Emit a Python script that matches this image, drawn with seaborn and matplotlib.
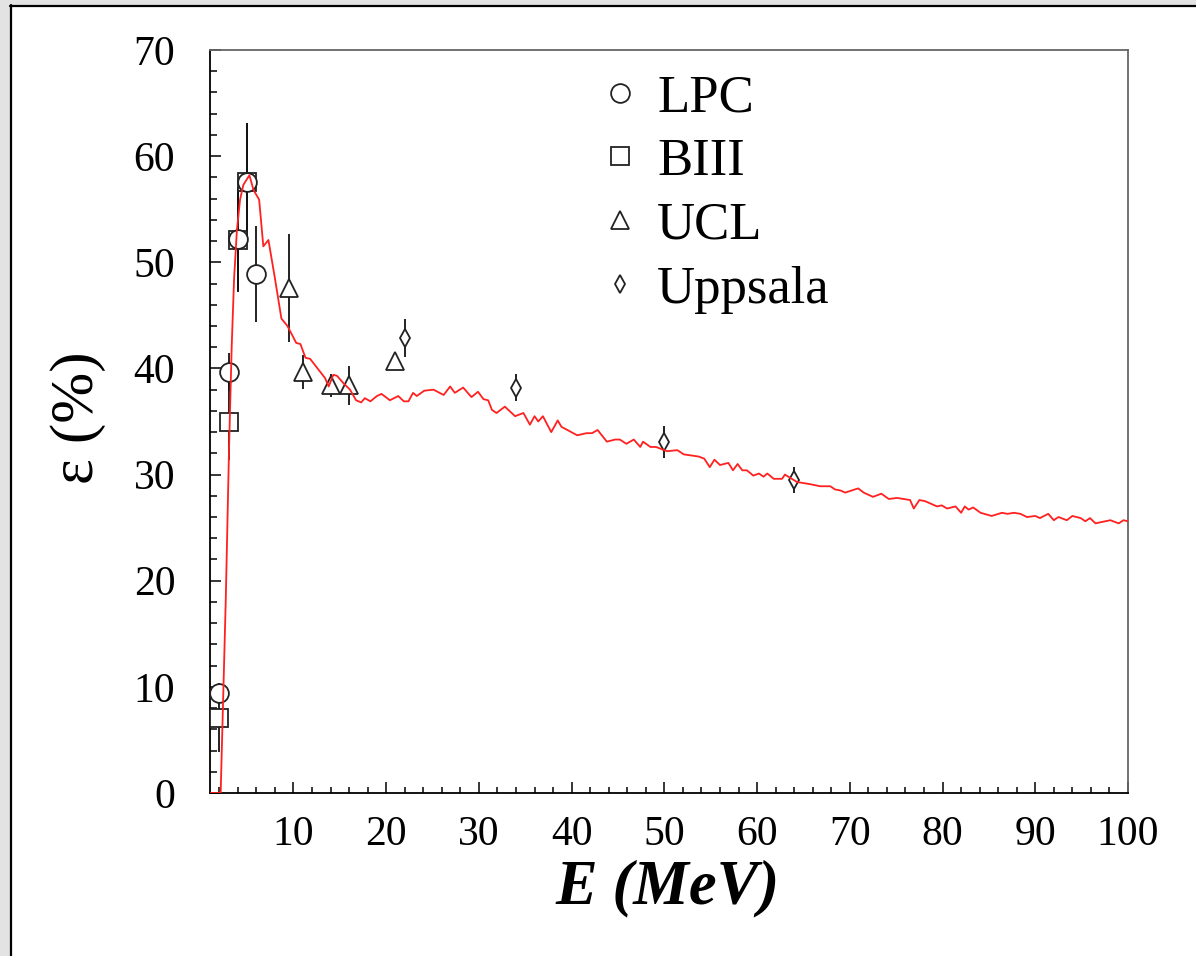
import numpy as np
import pandas as pd
import matplotlib
matplotlib.use("Agg")
import matplotlib.pyplot as plt
import seaborn as sns
from matplotlib.ticker import MultipleLocator
from matplotlib.patches import Rectangle
from matplotlib.lines import Line2D

# ---------------- data ----------------
sim_E = [1.0, 2.15, 2.7, 3.05, 3.34, 3.6, 3.9, 4.24, 4.6, 5.25, 5.7, 6.3, 6.75, 7.3, 8.0, 8.7,
         9.35, 10.3, 10.75, 11.3, 11.8, 12.6, 13.4, 13.8, 14.3, 14.7, 15.4, 16.1, 16.75, 17.3,
         17.7, 18.3, 19.0, 19.5, 20.4, 21.3, 21.9, 22.4, 22.9, 23.3, 24.1, 25.1, 26.2, 26.9,
         27.4, 28.3, 29.2, 29.9, 30.5, 31.0, 31.4, 31.9, 32.8, 33.9, 34.8, 35.5, 36.0, 36.4,
         36.9, 37.8, 38.5, 38.9, 40.6, 41.6, 42.2, 42.8, 43.8, 44.7, 45.2, 45.9, 46.7, 47.4,
         47.7, 48.5, 49.1, 50.3, 51.4, 52.1, 53.7, 54.3, 54.9, 55.4, 56.0, 56.9, 57.4, 57.9,
         58.4, 58.9, 59.6, 60.2, 60.7, 61.1, 61.8, 62.7, 63.0, 64.3, 65.7, 66.8, 67.9, 68.4,
         69.0, 69.5, 70.9, 71.5, 72.5, 73.4, 74.2, 75.1, 76.5, 76.9, 77.5, 78.1, 79.4, 79.9,
         80.5, 81.4, 82.0, 82.4, 82.8, 83.3, 84.1, 85.3, 86.4, 87.0, 87.7, 88.4, 89.1, 90.0,
         90.5, 91.4, 92.0, 92.5, 93.4, 94.0, 94.9, 95.4, 95.9, 96.5, 97.0, 98.1, 99.0, 99.5, 100.0]
sim_eff = [0.0, 0.0, 18.2, 32.3, 42.1, 48.5, 53.0, 55.9, 57.3, 58.2, 56.8, 55.9, 51.5, 52.1, 48.5, 44.7,
           44.0, 42.4, 42.3, 41.0, 40.9, 40.0, 39.1, 38.3, 39.4, 39.3, 38.6, 38.0, 37.0, 36.8,
           37.2, 36.9, 37.4, 37.6, 37.0, 37.4, 36.9, 36.9, 37.7, 37.4, 37.9, 38.0, 37.5, 38.3,
           37.7, 38.2, 37.3, 37.8, 37.1, 37.0, 36.1, 35.8, 36.4, 35.5, 35.8, 34.7, 35.5, 35.0,
           35.5, 34.0, 35.1, 34.5, 33.7, 33.9, 33.9, 34.2, 33.1, 33.3, 33.3, 32.9, 33.3, 32.6,
           33.1, 32.6, 32.6, 32.2, 32.3, 31.9, 31.7, 31.5, 30.7, 31.4, 30.9, 31.1, 30.4, 31.0,
           30.4, 30.4, 29.9, 30.1, 29.8, 30.1, 29.6, 29.6, 30.0, 29.3, 29.1, 28.9, 28.9, 28.6,
           28.5, 28.3, 28.7, 28.3, 27.9, 28.2, 27.7, 27.8, 27.6, 26.8, 27.6, 27.5, 27.0, 27.1,
           26.8, 27.0, 26.4, 27.0, 26.7, 26.9, 26.4, 26.1, 26.4, 26.3, 26.4, 26.3, 26.0, 26.1,
           25.9, 26.3, 25.7, 26.0, 25.7, 26.1, 25.9, 25.6, 25.9, 25.4, 25.5, 25.7, 25.4, 25.7, 25.6]

lpc_E = [2, 3, 4, 5, 6]
lpc_eff = [9.4, 39.7, 52.2, 57.6, 48.9]
lpc_err = [1.0, 1.8, 4.9, 5.5, 4.5]

biii_E = [2, 3, 4, 5]
biii_eff = [7.1, 35.0, 52.1, 57.6]
biii_err = [3.2, 3.6, 4.9, 5.5]

ucl_E = [9.5, 11, 14, 16, 21]
ucl_eff = [47.6, 39.7, 38.4, 38.4, 40.7]
ucl_err = [5.1, 1.6, 1.1, 1.8, 0.0]

upp_E = [22, 34, 50, 64]
upp_eff = [42.9, 38.2, 33.1, 29.5]
upp_err = [1.8, 1.3, 1.5, 1.2]

x_ticks = [10, 20, 30, 40, 50, 60, 70, 80, 90, 100]
y_ticks = [0, 10, 20, 30, 40, 50, 60, 70]

# ---------------- style ----------------
sns.set_theme(style="ticks")
plt.rcParams["font.family"] = ["Liberation Serif", "DejaVu Serif"]
plt.rcParams["text.color"] = "black"
plt.rcParams["axes.labelcolor"] = "black"
plt.rcParams["xtick.color"] = "black"
plt.rcParams["ytick.color"] = "black"
plt.rcParams["xtick.labelcolor"] = "black"
plt.rcParams["ytick.labelcolor"] = "black"

W, H = 1196, 956
fig = plt.figure(figsize=(W / 100, H / 100), dpi=100, facecolor="white")

# window-like frame (gray strip + black border on left and top)
fig.patches.append(Rectangle((0, 0), 10 / W, 1, transform=fig.transFigure,
                             facecolor="#e3e3e3", edgecolor="none", zorder=0))
fig.patches.append(Rectangle((0, 1 - 5 / H), 1, 5 / H, transform=fig.transFigure,
                             facecolor="#e3e3e3", edgecolor="none", zorder=0))
fig.add_artist(Line2D([11 / W, 11 / W], [0, 1 - 5 / H], transform=fig.transFigure,
                      color="black", lw=1.6))
fig.add_artist(Line2D([10 / W, 1], [1 - 6 / H, 1 - 6 / H], transform=fig.transFigure,
                      color="black", lw=1.6))

ax = fig.add_axes([210 / W, 1 - 793 / H, (1128 - 210) / W, (793 - 50) / H])
ax.set_facecolor("white")

# simulation curve
sns.lineplot(x=sim_E, y=sim_eff, ax=ax, color="#ff2020", lw=1.3, zorder=6, sort=False)

# error bars
for E, v, e in [(lpc_E, lpc_eff, lpc_err), (biii_E, biii_eff, biii_err),
                (ucl_E, ucl_eff, ucl_err), (upp_E, upp_eff, upp_err)]:
    ax.errorbar(E, v, yerr=e, fmt="none", ecolor="#111111", elinewidth=1.3, capsize=0, zorder=2)

mk = dict(linestyle="", mfc="white", mec="#222222", mew=1.3)
sns.lineplot(x=biii_E, y=biii_eff, ax=ax, marker="s", ms=13, label="BIII", zorder=3, **mk)
sns.lineplot(x=lpc_E, y=lpc_eff, ax=ax, marker="o", ms=13.5, label="LPC", zorder=4, **mk)
sns.lineplot(x=ucl_E, y=ucl_eff, ax=ax, marker="^", ms=13, label="UCL", zorder=4, **mk)
sns.lineplot(x=upp_E, y=upp_eff, ax=ax, marker="d", ms=9.2, label="Uppsala", zorder=4, **mk)

ax.set_xlim(1, 100)
ax.set_ylim(0, 70)
ax.set_xticks(x_ticks)
ax.set_yticks(y_ticks)
ax.xaxis.set_minor_locator(MultipleLocator(2))
ax.yaxis.set_minor_locator(MultipleLocator(2))
ax.tick_params(axis="both", which="both", direction="in", top=False, right=False,
               color="black", width=1.1)
ax.tick_params(axis="x", which="major", length=8, pad=16, labelsize=30)
ax.tick_params(axis="x", which="minor", length=4.5)
ax.tick_params(axis="y", which="major", length=8, pad=25, labelsize=30)
ax.tick_params(axis="y", which="minor", length=5)

for s in ["left", "bottom"]:
    ax.spines[s].set_color("black")
    ax.spines[s].set_linewidth(1.3)
for s in ["top", "right"]:
    ax.spines[s].set_color("#666666")
    ax.spines[s].set_linewidth(1.3)

ax.set_xlabel("E (MeV)", fontsize=45, fontweight="bold", fontstyle="italic",
              va="center", color="black")
ax.xaxis.set_label_coords((668 - 210) / 918, -(888 - 793) / 743)
ax.set_ylabel("ε (%)", fontsize=44, va="center", color="black")
ax.yaxis.set_label_coords(-(210 - 78) / 918, (793 - 418) / 743)

handles, labels = ax.get_legend_handles_labels()
order = [labels.index(l) for l in ["LPC", "BIII", "UCL", "Uppsala"]]
leg = ax.legend([handles[i] for i in order], [labels[i] for i in order],
                loc="upper left", bbox_to_anchor=(599 / W, 1 - 74 / H),
                bbox_transform=fig.transFigure, frameon=False, fontsize=38,
                handlelength=0.8, handletextpad=0.3, labelspacing=0.3,
                borderpad=0, borderaxespad=0)
for t in leg.get_texts():
    t.set_color("black")

fig.savefig("out.png", dpi=100, facecolor=fig.get_facecolor())
